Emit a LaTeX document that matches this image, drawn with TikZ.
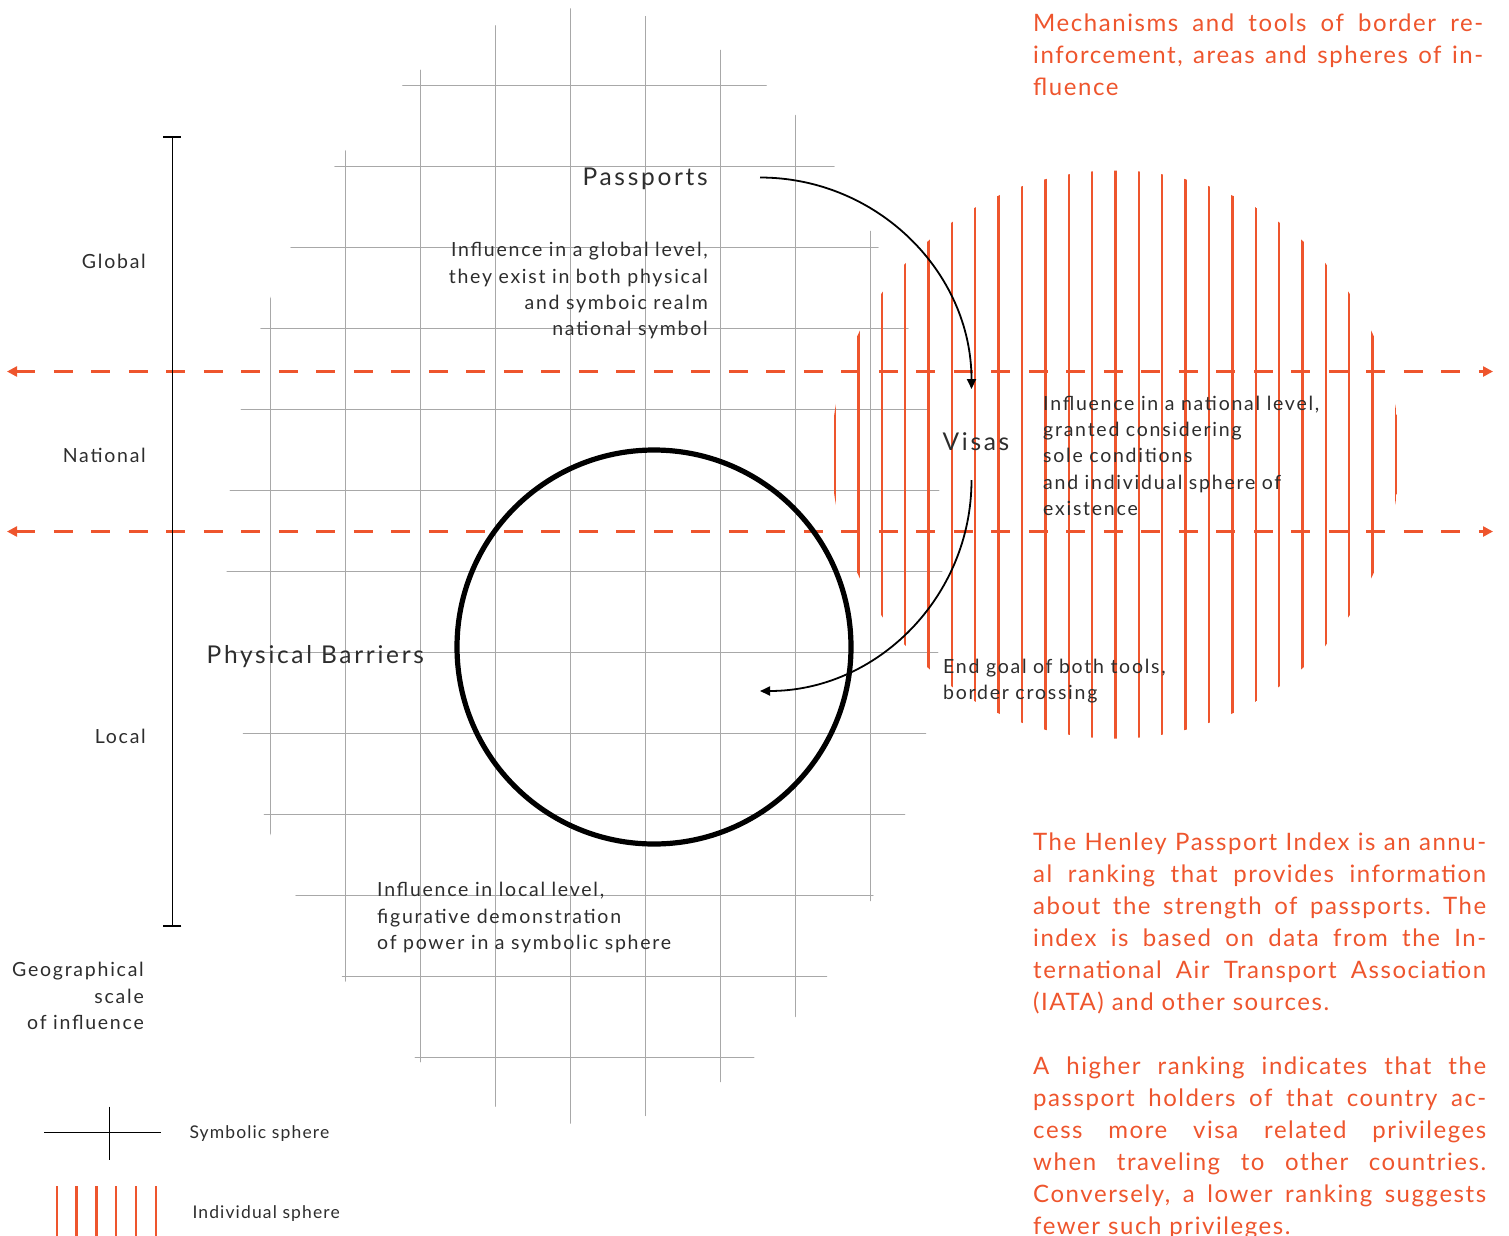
\documentclass[tikz,border=0pt]{standalone}
\usepackage{fontspec}
\setmainfont{Lato}
\usetikzlibrary{arrows.meta}

\definecolor{ink}{RGB}{45,45,45}
\definecolor{border}{RGB}{238,85,45}
\definecolor{gridgray}{RGB}{168,168,168}

% justified line of the notes
\newcommand{\jline}[2][\linewidth]{{\frenchspacing
  \spaceskip=\fontdimen2\font plus 1fil minus \fontdimen4\font\relax
  \makebox[#1][s]{#2}}}

\begin{document}
\begin{tikzpicture}[x=1pt,y=-1pt,
    % styles
    grid line/.style={gridgray,line width=1pt},
    sphere line/.style={border,line width=2.4pt},
    level line/.style={border,line width=2.4pt,dash pattern=on 19pt off 18.5pt,
      {Triangle[length=10pt,width=10pt]}-{Triangle[length=10pt,width=10pt]}},
    tool arrow/.style={black,line width=1.8pt,-{Triangle[length=10pt,width=9pt]}},
    big label/.style={inner sep=0pt,text=ink,
      font=\fontsize{24.5}{30}\selectfont\addfontfeatures{LetterSpace=11}},
    small label/.style={inner sep=0pt,text=ink,
      font=\fontsize{19.5}{26.4}\selectfont\addfontfeatures{LetterSpace=9}},
    side label/.style={inner sep=0pt,text=ink,
      font=\fontsize{19.5}{26.3}\selectfont\addfontfeatures{LetterSpace=9}},
    legend label/.style={inner sep=0pt,text=ink,
      font=\fontsize{17.5}{22}\selectfont\addfontfeatures{LetterSpace=6.5}},
    note/.style={inner sep=0pt,text=border,text width=453pt,align=left,
      font=\fontsize{24}{32}\selectfont\addfontfeatures{LetterSpace=6.5}}]

  \useasboundingbox (0,0) rectangle (1509,1235);

  % symbolic sphere (grid)
  \begin{scope}
    \clip (584.5,566) ellipse [x radius=358pt,y radius=558pt];
    \foreach \x in {270,345,...,870}
      \draw[grid line] (\x,0) -- (\x,1235);
    \foreach \y in {85,166,...,1057}
      \draw[grid line] (0,\y) -- (1509,\y);
  \end{scope}

  % individual sphere (hatch)
  \begin{scope}
    \clip (1115.5,454.5) circle [radius=284pt];
    \foreach \k in {-12,...,12}
      \draw[sphere line] ({1115.5+23.375*\k},160) -- ({1115.5+23.375*\k},750);
  \end{scope}

  % levels
  \coordinate (global-w) at (7,371.5);
  \coordinate (global-e) at (1493,371.5);
  \coordinate (local-w) at (7,531.5);
  \coordinate (local-e) at (1493,531.5);
  \draw[level line] (global-w) -- (global-e);
  \draw[level line] (local-w) -- (local-e);

  % physical barriers
  \draw[black,line width=5.2pt] (654,647) circle [radius=197pt];

  % scale of influence
  \coordinate (scale-top) at (172.3,136);
  \coordinate (scale-bot) at (172.3,926.5);
  \draw[black,line width=1.6pt,{Bar[width=18pt]}-{Bar[width=18pt]}] (scale-top) -- (scale-bot);
  \draw (146,268.3) node (global) [side label,anchor=base east] {Global};
  \draw (146,462.5) node (national) [side label,anchor=base east] {National};
  \draw (146,743.5) node (local) [side label,anchor=base east] {Local};
  \draw (144,976.7) node (geo) [side label,anchor=base east,text width=200pt,align=right]
    {Geographical\\scale\\of influence};

  % tools
  \draw (708,185.7) node (passports) [big label,anchor=base east] {Passports};
  \draw (708,256.7) node (global-note) [small label,anchor=base east,text width=320pt,align=right]
    {Influence in a global level,\\they exist in both physical\\and symboic realm\\national symbol};
  \draw (942.5,450) node (visas) [big label,anchor=base west] {Visas};
  \draw (1043,410) node (national-note) [small label,anchor=base west,text width=340pt,align=left]
    {Influence in a national level,\\granted considering\\sole conditions\\and individual sphere of\\existence};
  \draw (206.5,663.3) node (barriers) [big label,anchor=base west] {Physical Barriers};
  \draw (943,673.5) node (goal-note) [small label,anchor=base west,text width=320pt,align=left]
    {End goal of both tools,\\border crossing};
  \draw (377,896.7) node (local-note) [small label,anchor=base west,text width=340pt,align=left]
    {Influence in local level,\\figurative demonstration\\of power in a symbolic sphere};

  % arrows
  \coordinate (passports-out) at (760,177.5);
  \coordinate (visas-in) at (971.5,389);
  \coordinate (visas-out) at (971.5,480);
  \coordinate (crossing) at (760,691);
  \draw[tool arrow] (passports-out) .. controls +(117,0) and +(0,-117) .. (visas-in);
  \draw[tool arrow] (visas-out) .. controls +(0,117) and +(117,0) .. (crossing);

  % notes
  \draw (1033,31.7) node (title) [note,anchor=base west] {%
    \jline[450pt]{Mechanisms and tools of border re-}\\
    \jline[450pt]{inforcement, areas and spheres of in-}\\
    fluence};
  \draw (1033,850.7) node (henley) [note,anchor=base west] {%
    \jline{The Henley Passport Index is an annu-}\\
    \jline{al ranking that provides information}\\
    \jline{about the strength of passports. The}\\
    \jline{index is based on data from the In-}\\
    \jline{ternational Air Transport Association}\\
    (IATA) and other sources.\\[32pt]
    \jline{A higher ranking indicates that the}\\
    \jline{passport holders of that country ac-}\\
    \jline{cess more visa related privileges}\\
    \jline{when traveling to other countries.}\\
    \jline{Conversely, a lower ranking suggests}\\
    fewer such privileges.};

  % legend
  \draw[black,line width=1.2pt] (44,1132.3) -- (161,1132.3);
  \draw[black,line width=1.2pt] (109.3,1106.7) -- (109.3,1160);
  \draw (189.3,1138.3) node (symbolic) [legend label,anchor=base west] {Symbolic sphere};
  \foreach \x in {56.7,76.5,96.3,116.1,135.9,155.7}
    \draw[sphere line] (\x,1186) -- (\x,1240);
  \draw (192.3,1218.3) node (individual) [legend label,anchor=base west] {Individual sphere};
\end{tikzpicture}
\end{document}
